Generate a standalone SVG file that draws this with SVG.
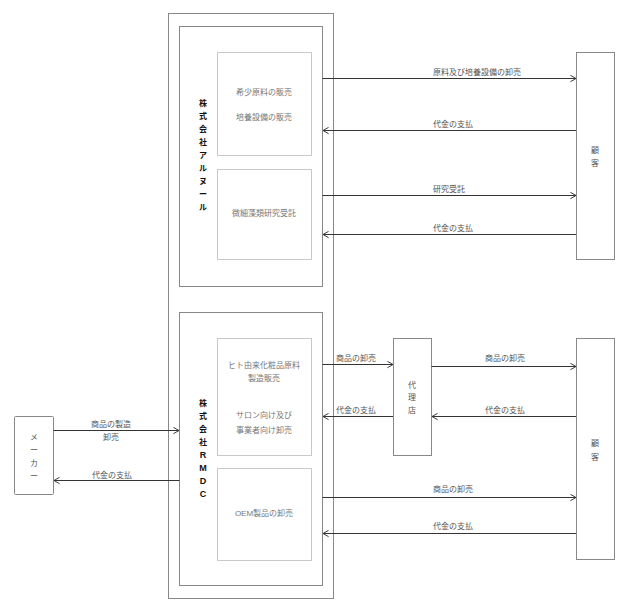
<svg xmlns="http://www.w3.org/2000/svg" width="631" height="612" viewBox="0 0 631 612">
<defs>
<marker id="arr" viewBox="0 0 10 10" refX="9" refY="5" markerWidth="8" markerHeight="8" orient="auto-start-reverse" markerUnits="userSpaceOnUse">
<path d="M2,1 L9,5 L2,9" fill="none" stroke="#333" stroke-width="1.2"/>
</marker>
</defs>
<style>
.box{fill:#fff;stroke:#888;stroke-width:1}
.sub{fill:#fff;stroke:#c8c8c8;stroke-width:1}
.t{font-family:"Liberation Sans","Noto Sans CJK JP",sans-serif;font-size:8px;fill:#555}
.st{font-family:"Liberation Sans","Noto Sans CJK JP",sans-serif;font-size:8px;fill:#777;text-anchor:middle}
.v{font-family:"Liberation Sans","Noto Sans CJK JP",sans-serif;font-size:8px;fill:#111;font-weight:bold;text-anchor:middle}
.vl{font-size:9px}
.n{font-family:"Liberation Sans","Noto Sans CJK JP",sans-serif;font-size:8px;fill:#555;text-anchor:middle}
.e{fill:none;stroke:#333;stroke-width:1;marker-end:url(#arr)}
</style>
<rect width="631" height="612" fill="#fff"/>
<g id="outer"><rect class="box" x="168.5" y="13.5" width="165" height="585"/></g>
<g id="alnuar">
<rect class="box" x="179.5" y="26.5" width="143" height="260"/>
<text class="v" x="203" y="106">株</text>
<text class="v" x="203" y="119">式</text>
<text class="v" x="203" y="132">会</text>
<text class="v" x="203" y="145">社</text>
<text class="v" x="203" y="158">ア</text>
<text class="v" x="203" y="171">ル</text>
<text class="v" x="203" y="184">ヌ</text>
<text class="v" x="203" y="197">ー</text>
<text class="v" x="203" y="210">ル</text>
</g>
<g id="sales1">
<rect class="sub" x="217.5" y="52.5" width="94" height="103"/>
<text class="st" x="264" y="95">希少原料の販売</text>
<text class="st" x="264" y="120">培養設備の販売</text>
</g>
<g id="research">
<rect class="sub" x="217.5" y="169.5" width="94" height="90"/>
<text class="st" x="264" y="216">微細藻類研究受託</text>
</g>
<g id="rmdc">
<rect class="box" x="179.5" y="312.5" width="143" height="273"/>
<text class="v" x="203" y="406">株</text>
<text class="v" x="203" y="419">式</text>
<text class="v" x="203" y="432">会</text>
<text class="v" x="203" y="445">社</text>
<text class="v vl" x="203" y="458">R</text>
<text class="v vl" x="203" y="471">M</text>
<text class="v vl" x="203" y="484">D</text>
<text class="v vl" x="203" y="497">C</text>
</g>
<g id="human">
<rect class="sub" x="217.5" y="338.5" width="94" height="117"/>
<text class="st" x="264" y="368">ヒト由来化粧品原料</text>
<text class="st" x="264" y="381">製造販売</text>
<text class="st" x="264" y="418">サロン向け及び</text>
<text class="st" x="264" y="433">事業者向け卸売</text>
</g>
<g id="oem">
<rect class="sub" x="217.5" y="468.5" width="94" height="92"/>
<text class="st" x="264" y="516">OEM製品の卸売</text>
</g>
<g id="customer1">
<rect class="box" x="576.5" y="52.5" width="38" height="207"/>
<text class="n" x="595" y="153">顧</text>
<text class="n" x="595" y="166">客</text>
</g>
<g id="agent">
<rect class="box" x="393.5" y="338.5" width="38" height="117"/>
<text class="n" x="412" y="388">代</text>
<text class="n" x="412" y="400">理</text>
<text class="n" x="412" y="413">店</text>
</g>
<g id="customer2">
<rect class="box" x="576.5" y="338.5" width="38" height="221"/>
<text class="n" x="595" y="446">顧</text>
<text class="n" x="595" y="460">客</text>
</g>
<g id="maker">
<rect class="box" x="14.5" y="416.5" width="39" height="78" rx="1"/>
<text class="n" x="34" y="440">メ</text>
<text class="n" x="34" y="453">ー</text>
<text class="n" x="34" y="466">カ</text>
<text class="n" x="34" y="479">ー</text>
</g>
<g id="connectors">
<path class="e" d="M322.5,78.5 H576"/>
<path class="e" d="M576,130.5 H323"/>
<path class="e" d="M322.5,195.5 H576"/>
<path class="e" d="M576,234.5 H323"/>
<path class="e" d="M322.5,364.5 H393"/>
<path class="e" d="M431.5,366.5 H576"/>
<path class="e" d="M576,416.5 H432"/>
<path class="e" d="M393,416.5 H323"/>
<path class="e" d="M322.5,497.5 H576"/>
<path class="e" d="M576,533.5 H323"/>
<path class="e" d="M53.5,430.5 H179"/>
<path class="e" d="M179.5,480.5 H54"/>
<text class="t" x="433" y="75">原料及び培養設備の卸売</text>
<text class="t" x="433" y="127">代金の支払</text>
<text class="t" x="433" y="192">研究受託</text>
<text class="t" x="433" y="231">代金の支払</text>
<text class="t" x="336" y="361">商品の卸売</text>
<text class="t" x="485" y="361">商品の卸売</text>
<text class="t" x="485" y="413">代金の支払</text>
<text class="t" x="336" y="413">代金の支払</text>
<text class="t" x="433" y="492">商品の卸売</text>
<text class="t" x="433" y="529">代金の支払</text>
<text class="t" x="111" y="427" text-anchor="middle">商品の製造</text>
<text class="t" x="111" y="440" text-anchor="middle">卸売</text>
<text class="t" x="92" y="478">代金の支払</text>
</g>
</svg>
